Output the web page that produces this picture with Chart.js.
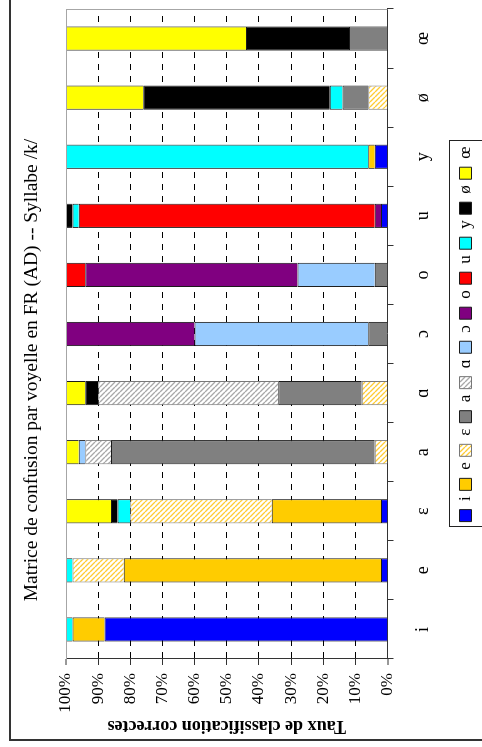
<!DOCTYPE html>
<html>
<head>
<meta charset="utf-8">
<script src="https://cdn.jsdelivr.net/npm/chart.js@4"></script>
<style>
  html, body { margin: 0; padding: 0; background: #fff; overflow: hidden; }
  /* chart is drawn upright (747x482) then turned a quarter to the left */
  #wrap { position: absolute; left: 0; top: 0; width: 747px; height: 482px;
          transform-origin: 0 0; transform: translate(0, 747px) rotate(-90deg); }
</style>
</head>
<body>
<div id="wrap"><canvas id="chart" width="747" height="482"></canvas></div>
<script>
const categories = ['i', 'e', 'ε', 'a', 'ɑ', 'ɔ', 'o', 'u', 'y', 'ø', 'œ'];
const tickLabels = ['0%', '10%', '20%', '30%', '40%', '50%', '60%', '70%', '80%', '90%', '100%'];

// one array per answered vowel, in % of the stimulus vowel on the axis
const valsI     = [88, 2, 2, 0, 0, 0, 0, 2, 4, 0, 0];
const valsE     = [10, 80, 34, 0, 0, 0, 0, 0, 2, 0, 0];
const valsEps   = [0, 16, 44, 4, 8, 0, 0, 0, 0, 6, 0];
const valsA     = [0, 0, 0, 82, 26, 6, 4, 0, 0, 8, 12];
const valsAlpha = [0, 0, 0, 8, 56, 0, 0, 0, 0, 0, 0];
const valsOpenO = [0, 0, 0, 2, 0, 54, 24, 0, 0, 0, 0];
const valsO     = [0, 0, 0, 0, 0, 40, 66, 2, 0, 0, 0];
const valsU     = [0, 0, 0, 0, 0, 0, 6, 92, 0, 0, 0];
const valsY     = [2, 2, 4, 0, 0, 0, 0, 2, 94, 4, 0];
const valsOslash = [0, 0, 2, 0, 4, 0, 0, 2, 0, 58, 32];
const valsOe    = [0, 0, 14, 4, 6, 0, 0, 0, 0, 24, 56];

const serif = "'Liberation Serif', 'Times New Roman', 'DejaVu Serif', serif";

function hatch(color) {
  const c = document.createElement('canvas');
  c.width = 5; c.height = 5;
  const g = c.getContext('2d');
  g.fillStyle = '#fff';
  g.fillRect(0, 0, 5, 5);
  g.strokeStyle = color;
  g.lineWidth = 1.3;
  g.beginPath();
  for (const k of [-5, 0, 5]) { g.moveTo(k, 0); g.lineTo(k + 5, 5); }
  g.stroke();
  return g.createPattern(c, 'repeat');
}

function ds(label, data, bg, border) {
  return { label, data, backgroundColor: bg, borderColor: border || '#1a1a1a', borderWidth: 1,
           barPercentage: 0.41, categoryPercentage: 1 };
}

const framePlugin = {
  id: 'frame',
  beforeDraw(chart) {
    const ctx = chart.ctx;
    ctx.save();
    ctx.fillStyle = '#fff';
    ctx.fillRect(0, 0, chart.width, chart.height);
    ctx.strokeStyle = '#333';
    ctx.lineWidth = 2;
    ctx.strokeRect(7, 10, chart.width + 20, chart.height + 20);
    ctx.restore();
  },
  afterDraw(chart) {
    const { ctx, chartArea: a, legend } = chart;
    ctx.save();
    ctx.strokeStyle = '#a6a6a6';
    ctx.lineWidth = 1;
    ctx.beginPath();
    const ty = Math.round(a.top) + 0.5;
    const rx = Math.round(a.right) - 0.5;
    ctx.moveTo(a.left, ty); ctx.lineTo(a.right, ty);
    ctx.moveTo(rx, a.top); ctx.lineTo(rx, a.bottom);
    ctx.stroke();
    const boxes = legend.legendHitBoxes;
    const l = Math.min(...boxes.map(b => b.left)) - 5;
    const r = Math.max(...boxes.map(b => b.left + b.width)) + 6;
    const t = boxes[0].top + boxes[0].height / 2 - 17;
    ctx.strokeStyle = '#222';
    ctx.strokeRect(Math.round(l) + 0.5, Math.round(t) + 0.5, Math.round(r - l), 80);
    ctx.restore();
  }
};

new Chart(document.getElementById('chart'), {
  type: 'bar',
  data: {
    labels: categories,
    datasets: [
      ds('i', valsI, '#0000ff'),
      ds('e', valsE, '#ffcc00'),
      ds('ε', valsEps, hatch('#ffcc33'), '#777'),
      ds('a', valsA, '#808080'),
      ds('ɑ', valsAlpha, hatch('#a8a8a8'), '#777'),
      ds('ɔ', valsOpenO, '#99ccff'),
      ds('o', valsO, '#800080'),
      ds('u', valsU, '#ff0000'),
      ds('y', valsY, '#00ffff'),
      ds('ø', valsOslash, '#000000'),
      ds('œ', valsOe, '#ffff00')
    ]
  },
  options: {
    responsive: false,
    animation: false,
    devicePixelRatio: 1,
    events: [],
    layout: { padding: { left: 16, right: 9, top: 0, bottom: -2 } },
    plugins: {
      tooltip: { enabled: false },
      title: {
        display: true,
        text: 'Matrice de confusion par voyelle en FR (AD) -- Syllabe /k/',
        color: '#000',
        font: { family: serif, size: 19.5, weight: 'normal' },
        padding: { top: 20, bottom: 22.6 }
      },
      legend: {
        position: 'bottom',
        fullSize: false,
        labels: {
          color: '#000',
          boxWidth: 12,
          boxHeight: 12,
          padding: 6,
          font: { family: serif, size: 17 }
        }
      }
    },
    scales: {
      x: {
        stacked: true,
        afterFit: s => { s.height = 63.5; },
        grid: { drawOnChartArea: false, drawTicks: true, tickLength: 6, tickColor: '#333', tickWidth: 1 },
        border: { color: '#333', width: 1 },
        ticks: { color: '#000', padding: 19, maxRotation: 0, font: { family: serif, size: 18 } }
      },
      y: {
        stacked: true,
        min: 0,
        max: 100,
        afterFit: s => { s.width = 72; },
        grid: {
          color: '#000',
          lineWidth: c => (c.tick && (c.tick.value === 0 || c.tick.value === 100)) ? 0 : 1,
          tickLength: 6, tickColor: '#333', tickWidth: 1
        },
        border: { color: '#333', width: 1, dash: [6, 6] },
        ticks: {
          stepSize: 10,
          padding: 8,
          color: '#000',
          font: { family: serif, size: 17 },
          callback: (v, i) => tickLabels[i]
        },
        title: {
          display: true,
          text: 'Taux de classification correctes',
          color: '#000',
          font: { family: serif, size: 18, weight: 'bold' },
          padding: { top: -5, bottom: 0 }
        }
      }
    }
  },
  plugins: [framePlugin]
});
</script>
</body>
</html>
